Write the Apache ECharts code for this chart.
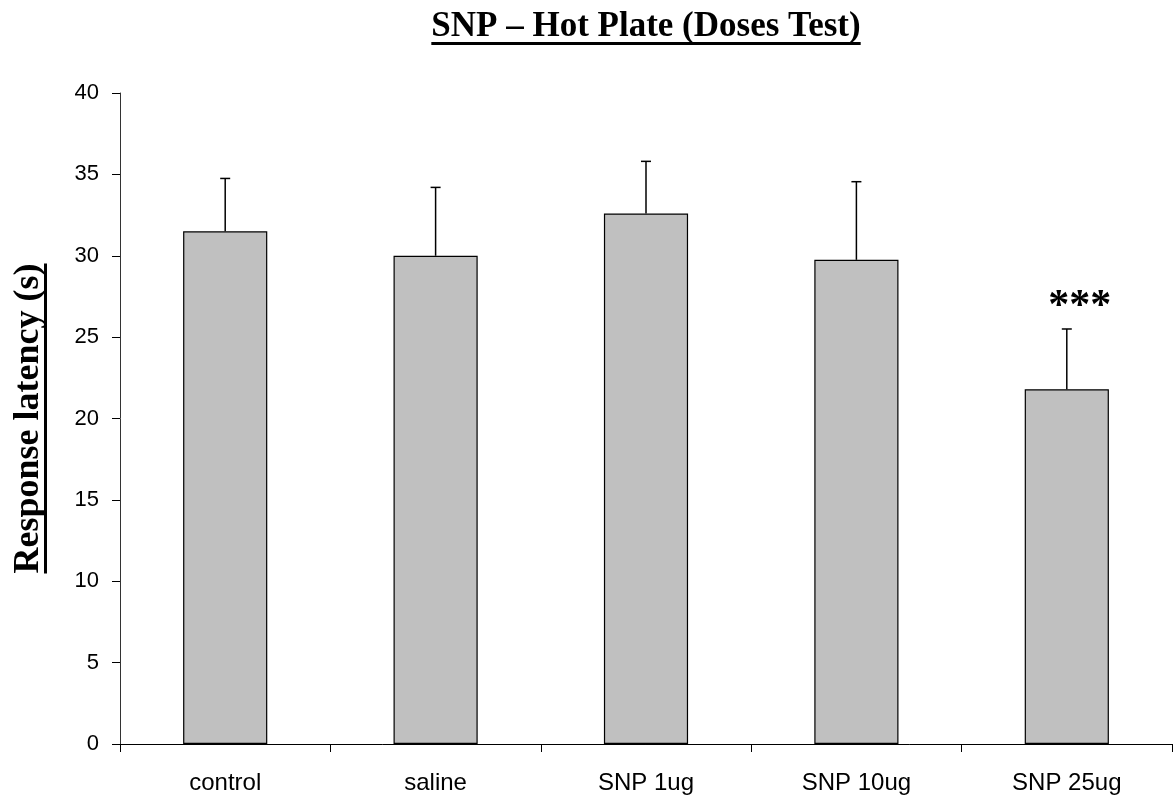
<!DOCTYPE html>
<html>
<head>
<meta charset="utf-8">
<script src="https://cdn.jsdelivr.net/npm/echarts@6/dist/echarts.min.js"></script>
<style>
html,body{margin:0;padding:0;background:#fff;}
#chart{width:1174px;height:801px;}
</style>
</head>
<body>
<div id="chart"></div>
<script>
const titleText = 'SNP – Hot Plate (Doses Test)';
const yAxisTitle = 'Response latency (s)';
const categories = ['control', 'saline', 'SNP 1ug', 'SNP 10ug', 'SNP 25ug'];
const means = [31.5, 30.0, 32.6, 29.75, 21.8];
const errUpper = [34.75, 34.2, 35.8, 34.55, 25.5];
const significance = ['', '', '', '', '***'];
const yMin = 0, yMax = 40, yStep = 5;

const gridLeft = 120, gridRight = 2, gridTop = 93, gridBottom = 57;
const W = 1174, H = 801;
const plotCx = gridLeft + (W - gridLeft - gridRight) / 2;
const plotCy = gridTop + (H - gridTop - gridBottom) / 2;

const serifFamily = '"Liberation Serif","Times New Roman",serif';
const sansFamily = '"Liberation Sans",Arial,sans-serif';
const titleFont = 'bold 35px ' + serifFamily;
const yNameFont = 'bold 36px ' + serifFamily;

function measure(text, font) {
  const c = document.createElement('canvas').getContext('2d');
  c.font = font;
  return c.measureText(text).width;
}
const titleW = measure(titleText, titleFont);
const yNameW = measure(yAxisTitle, yNameFont);

const chart = echarts.init(document.getElementById('chart'), null, {renderer: 'canvas'});

const errData = categories.map((c, i) => [i, means[i], errUpper[i], significance[i]]);

chart.setOption({
  animation: false,
  backgroundColor: '#ffffff',
  grid: {left: gridLeft, right: gridRight, top: gridTop, bottom: gridBottom, containLabel: false},
  xAxis: {
    type: 'category',
    data: categories,
    axisLine: {lineStyle: {color: '#000', width: 1}},
    axisTick: {show: true, length: 8, lineStyle: {color: '#000'}},
    axisLabel: {color: '#000', fontSize: 24, fontFamily: sansFamily, margin: 27},
    splitLine: {show: false}
  },
  yAxis: {
    type: 'value',
    min: yMin, max: yMax, interval: yStep,
    axisLine: {show: true, lineStyle: {color: '#333', width: 1}},
    axisTick: {show: true, length: 8, lineStyle: {color: '#000'}},
    axisLabel: {color: '#000', fontSize: 22, fontFamily: sansFamily, margin: 21},
    splitLine: {show: false}
  },
  graphic: [
    {type: 'text', x: plotCx, y: 27, style: {text: titleText, font: titleFont, fill: '#000', align: 'center', verticalAlign: 'middle'}},
    {type: 'rect', shape: {x: plotCx - titleW / 2, y: 42, width: titleW, height: 3}, style: {fill: '#000'}},
    {type: 'text', x: 29, y: plotCy, rotation: Math.PI / 2, style: {text: yAxisTitle, font: yNameFont, fill: '#000', align: 'center', verticalAlign: 'middle'}},
    {type: 'rect', shape: {x: 44, y: plotCy - yNameW / 2, width: 3, height: yNameW}, style: {fill: '#000'}}
  ],
  series: [
    {
      type: 'bar',
      data: means,
      barWidth: '40%',
      itemStyle: {color: '#c0c0c0', borderColor: '#000', borderWidth: 1.2},
      z: 2
    },
    {
      type: 'custom',
      data: errData,
      z: 3,
      renderItem: function (params, api) {
        const i = api.value(0);
        const base = api.coord([i, api.value(1)]);
        const top = api.coord([i, api.value(2)]);
        const sig = significance[params.dataIndex];
        const children = [
          {type: 'line', shape: {x1: base[0], y1: base[1], x2: top[0], y2: top[1]}, style: {stroke: '#000', lineWidth: 1.5}},
          {type: 'line', shape: {x1: top[0] - 5, y1: top[1], x2: top[0] + 5, y2: top[1]}, style: {stroke: '#000', lineWidth: 1.5}}
        ];
        if (sig) {
          children.push({type: 'text', x: top[0] + 13, y: top[1] - 1,
            style: {text: sig, font: 'bold 42px ' + serifFamily, fill: '#000', align: 'center', verticalAlign: 'bottom'}});
        }
        return {type: 'group', children: children};
      }
    }
  ]
});
</script>
</body>
</html>
